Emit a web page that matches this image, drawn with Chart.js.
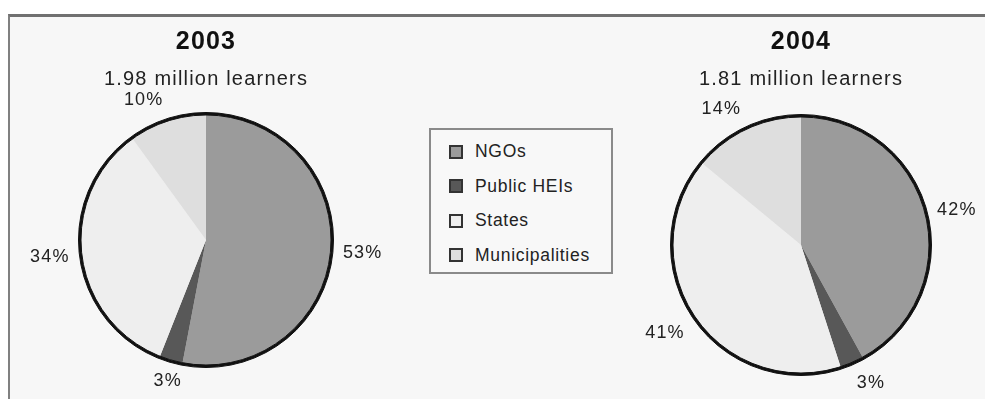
<!DOCTYPE html>
<html>
<head>
<meta charset="utf-8">
<script src="https://cdn.jsdelivr.net/npm/chart.js@4.4.1/dist/chart.umd.min.js"></script>
<style>
  html, body { margin: 0; padding: 0; width: 985px; height: 399px; overflow: hidden; background: #fff;
    font-family: "Liberation Sans", Arial, sans-serif; }
  #frame { position: absolute; left: 8px; top: 14px; width: 1000px; height: 400px;
    background: #f7f7f7; border-top: 3px solid #707070; border-left: 2px solid #808080; }
  #c2003 { position: absolute; left: 0; top: 0; }
  #c2004 { position: absolute; left: 605px; top: 0; }
  #legend { position: absolute; left: 429px; top: 128px; width: 180px; height: 137.5px; padding-top: 4.5px;
    border: 2px solid #8a8a8a; background: #f8f8f8; z-index: 2; }
  .item { height: 34.5px; display: flex; align-items: center; padding-left: 18px;
    font-size: 17.5px; letter-spacing: 0.7px; color: #222; }
  .sw { width: 10px; height: 10px; border: 2px solid #333; margin-right: 12px; }
</style>
</head>
<body>
<div id="frame"></div>
<canvas id="c2003" width="412" height="399"></canvas>
<canvas id="c2004" width="392" height="399"></canvas>
<div id="legend"></div>
<script>
const categories = ['NGOs', 'Public HEIs', 'States', 'Municipalities'];
const shares2003 = [53, 3, 34, 10];
const shares2004 = [42, 3, 41, 14];
const years = ['2003', '2004'];
const learners = ['1.98 million learners', '1.81 million learners'];
const colors = ['#9b9b9b', '#585858', '#eeeeee', '#dedede'];

// percentage labels just outside each slice
const pctLabels = {
  id: 'pctLabels',
  beforeDraw(chart) { chart.ctx.letterSpacing = '1.2px'; },
  afterDatasetsDraw(chart) {
    const ctx = chart.ctx;
    const ring = chart.getDatasetMeta(0).data[0];
    const vals = chart.data.datasets[1].data;
    ctx.save();
    ctx.letterSpacing = '1.2px';
    ctx.font = '18px "Liberation Sans", Arial, sans-serif';
    ctx.fillStyle = '#222';
    chart.getDatasetMeta(1).data.forEach((arc, i) => {
      const a = (arc.startAngle + arc.endAngle) / 2;
      const d = ring.outerRadius + 10;
      const c = Math.cos(a), s = Math.sin(a);
      ctx.textAlign = c > 0.3 ? 'left' : (c < -0.3 ? 'right' : 'center');
      ctx.textBaseline = s > 0.3 ? 'top' : (s < -0.3 ? 'bottom' : 'middle');
      ctx.fillText(vals[i] + '%', arc.x + d * c, arc.y + d * s);
    });
    ctx.restore();
  }
};

function makePie(id, idx, values, pad, ringW, innerW) {
  new Chart(document.getElementById(id), {
    type: 'pie',
    data: {
      labels: categories,
      datasets: [
        { data: [1], backgroundColor: '#111', borderColor: '#111', borderWidth: 1, weight: ringW },
        { data: values, backgroundColor: colors, borderWidth: 0, weight: innerW }
      ]
    },
    options: {
      responsive: false,
      animation: false,
      events: [],
      layout: { padding: pad },
      plugins: {
        legend: { display: false },
        tooltip: { enabled: false },
        title: { display: true, text: years[idx], color: '#111',
          font: { family: '"Liberation Sans", Arial, sans-serif', size: 25, weight: 'bold', lineHeight: 1.2 },
          padding: { top: 27, bottom: 0 } },
        subtitle: { display: true, text: learners[idx], color: '#222',
          font: { family: '"Liberation Sans", Arial, sans-serif', size: 20, lineHeight: 1.2 },
          padding: { top: 10, bottom: pad.sub } }
      }
    },
    plugins: [pctLabels]
  });
}

makePie('c2003', 0, shares2003, { top: 0, left: 78, right: 78, bottom: 31, sub: 21 }, 2.5, 125.5);
makePie('c2004', 1, shares2004, { top: 0, left: 65, right: 65, bottom: 23, sub: 23 }, 2.5, 128.5);

const legend = document.getElementById('legend');
categories.forEach((name, i) => {
  const row = document.createElement('div');
  row.className = 'item';
  row.innerHTML = '<span class="sw" style="background:' + colors[i] + '"></span>' + name;
  legend.appendChild(row);
});
</script>
</body>
</html>
